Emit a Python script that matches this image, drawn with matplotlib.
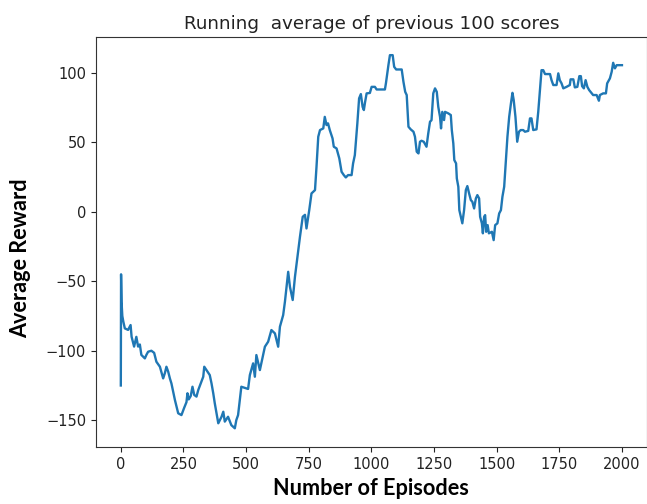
import matplotlib
matplotlib.use("Agg")
import matplotlib.pyplot as plt

episodes = [0, 1, 3, 6, 10, 16, 29, 39, 43, 53, 62, 69, 76, 82, 96, 102, 109, 122, 133,
            142, 156, 169, 176, 182, 189, 196, 202, 216, 229, 242, 253, 262, 266, 271,
            279, 286, 293, 302, 309, 319, 329, 333, 342, 355, 362, 369, 375, 382, 389,
            402, 409, 415, 428, 441, 455, 461, 468, 475, 481, 495, 508, 515, 528, 535,
            541, 555, 575, 588, 601, 615, 628, 635, 648, 655, 668, 675, 686, 695, 715,
            726, 735, 741, 752, 761, 775, 781, 788, 795, 808, 814, 821, 827, 834, 845,
            850, 861, 872, 881, 890, 898, 907, 921, 927, 934, 944, 951, 958, 965, 970,
            975, 981, 994, 1001, 1014, 1021, 1054, 1058, 1068, 1074, 1085, 1091, 1099,
            1121, 1128, 1135, 1141, 1148, 1157, 1168, 1174, 1181, 1188, 1194, 1200, 1209,
            1220, 1227, 1234, 1240, 1247, 1254, 1261, 1267, 1274, 1278, 1283, 1290, 1294,
            1307, 1317, 1321, 1327, 1331, 1338, 1341, 1347, 1351, 1357, 1363, 1370, 1377,
            1383, 1390, 1397, 1403, 1410, 1417, 1423, 1430, 1434, 1441, 1445, 1450, 1454,
            1458, 1464, 1469, 1481, 1488, 1494, 1503, 1510, 1517, 1523, 1530, 1537, 1543,
            1550, 1557, 1563, 1568, 1575, 1582, 1589, 1596, 1606, 1613, 1626, 1633, 1639,
            1646, 1659, 1666, 1673, 1679, 1686, 1693, 1713, 1719, 1726, 1739, 1746, 1752,
            1759, 1766, 1779, 1792, 1795, 1806, 1812, 1822, 1830, 1836, 1841, 1848, 1855,
            1862, 1869, 1878, 1885, 1899, 1908, 1912, 1925, 1936, 1941, 1952, 1959, 1965,
            1972, 1979, 1992, 2000]

avg_reward = [-125, -45, -65, -75, -79, -83.9, -85, -81.5, -89.9, -97, -90, -97, -95.5,
              -103, -105.5, -103, -100.7, -100, -101.5, -107.9, -111.5, -119.9, -116,
              -111.5, -115, -120, -123.5, -135.5, -145, -146.3, -141, -137, -130.6, -135,
              -132.6, -125.9, -131.8, -133, -128.3, -123.5, -118.7, -111.5, -113.9, -117.5,
              -123.5, -130.7, -137.8, -145, -152.2, -147.5, -143.9, -151, -147.5, -153.5,
              -155.8, -149.9, -146.3, -135.5, -125.9, -126.7, -127.5, -117.5, -109.1,
              -118.7, -103.1, -113.9, -97.1, -93.5, -85.1, -87.5, -97.1, -82.7, -74.3,
              -64.7, -43.2, -54, -63.5, -46.8, -18, -3.6, -2.2, -12, 1.2, 13.2, 15.6, 32.4,
              54, 58.8, 60, 68.3, 62.4, 63.6, 58.8, 52.8, 46.8, 45.6, 38.4, 28.8, 26.4,
              24.7, 26.4, 26.4, 34.8, 40.8, 63.6, 81.6, 84.7, 75.5, 73.2, 79.1, 85.2, 85.5,
              89.9, 89.9, 88, 88, 92.4, 105.5, 112.7, 112.7, 104.3, 102.4, 102.4, 93.5,
              86.3, 84, 61.2, 59.3, 57.6, 54, 43.2, 42, 50.4, 51.1, 50.4, 46.8, 56.4, 64.8,
              65.9, 85.2, 88.8, 86.3, 75.5, 68.3, 60, 71.9, 66, 71.9, 70.8, 69.6, 58.8,
              49.2, 37.2, 34.8, 24, 18, 1.2, -3.6, -8.3, 1.2, 15.6, 18.5, 13.2, 8.4, 7.2,
              2.4, 9.6, 12, 9.6, -3.6, -8.3, -15.5, -3.6, -2.4, -14.4, -9.6, -15.5, -14.4,
              -20.4, -9.6, -8.3, -1.2, 1.2, 10.8, 18, 37.2, 54, 68.3, 78, 85.6, 80.4, 68.3,
              50.4, 57.6, 58.8, 58.8, 57.6, 58.2, 67.2, 67.2, 58.8, 59.3, 72, 87.6, 101.9,
              101.9, 99.1, 99.1, 94.7, 91.2, 91.2, 99.6, 94.7, 92.4, 88.8, 89.9, 91.2, 95.3,
              95.3, 89.5, 89.9, 97.6, 97.6, 90.4, 88.8, 94.7, 89.9, 87.6, 85.6, 84, 84,
              79.9, 84, 85.2, 85.2, 92.4, 96, 100.7, 107.2, 103.2, 105.5, 105.5, 105.5]

x_ticks = [0, 250, 500, 750, 1000, 1250, 1500, 1750, 2000]
y_ticks = [-150, -100, -50, 0, 50, 100]

fig = plt.figure(figsize=(6.47, 5.04), dpi=100)
ax = fig.add_axes([0.148, 0.113, 0.852, 0.8134])
ax.plot(episodes, avg_reward, color="#1f77b4", linewidth=1.7)
ax.set_xlim(-100, 2100)
ax.set_ylim(-169.3, 125.7)
ax.set_xticks(x_ticks)
ax.set_yticks(y_ticks)
ax.tick_params(labelsize=10.5, colors="#222222")
for s in ax.spines.values():
    s.set_color("#333333")
ax.set_title("Running  average of previous 100 scores", fontsize=13.2, pad=6, color="#222222")
ax.set_xlabel("Number of Episodes", fontsize=15.6, fontweight="bold", family=["Lato", "DejaVu Sans"])
ax.set_ylabel("Average Reward", fontsize=15.6, fontweight="bold", family=["Lato", "DejaVu Sans"])
ax.xaxis.set_label_coords(0.5, -0.076)
ax.yaxis.set_label_coords(-0.118, 0.461)
fig.savefig("out.png", dpi=100)
